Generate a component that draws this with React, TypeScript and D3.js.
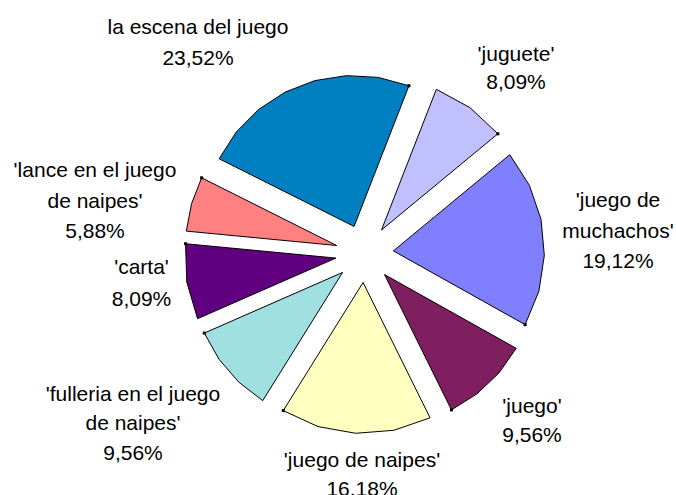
import React from "react";
import * as d3 from "d3";

// ---- data ----
const categories: string[][] = [
  ["'juguete'"],
  ["'juego de", "muchachos'"],
  ["'juego'"],
  ["'juego de naipes'"],
  ["'fulleria en el juego", "de naipes'"],
  ["'carta'"],
  ["'lance en el juego", "de naipes'"],
  ["la escena del juego"],
];
const values: number[] = [8.09, 19.12, 9.56, 16.18, 9.56, 8.09, 5.88, 23.52];
const percentLabels: string[] = ["8,09%", "19,12%", "9,56%", "16,18%", "9,56%", "8,09%", "5,88%", "23,52%"];

// ---- layout / style ----
const colors = ["#C0C0FF", "#8080FF", "#7F1F5F", "#FFFFC0", "#A0E0E0", "#600080", "#FF8080", "#0080C0"];
const labelPos: [number, number][] = [
  [516, 60.5],
  [618, 207],
  [532, 413],
  [362, 466.5],
  [133, 400.5],
  [141.5, 273.5],
  [95, 177],
  [198, 33.5],
];
const lineGap = [28.5, 30.5, 29, 29.5, 29.5, 32, 30.5, 31.5];

const W = 676, H = 495;
const cx = 364.5, cy = 253.5;
const R = 151;
const explode = 29;
const startDeg = 21.3;

export default function App() {
  const pie = d3
    .pie<number>()
    .sort(null)
    .value((d) => d)
    .startAngle((startDeg * Math.PI) / 180)
    .endAngle((startDeg * Math.PI) / 180 + 2 * Math.PI);
  const arcs = pie(values);
  const line = d3.line<[number, number]>();

  return (
    <svg width={W} height={H} style={{ position: "absolute", left: 0, top: 0, background: "#fff" }}>
      {arcs.map((a, i) => {
        const mid = (a.startAngle + a.endAngle) / 2;
        const ax = cx + explode * Math.sin(mid);
        const ay = cy - explode * Math.cos(mid);
        const spanDeg = ((a.endAngle - a.startAngle) * 180) / Math.PI;
        const n = Math.max(2, Math.round(spanDeg / 13));
        const pts: [number, number][] = [[ax, ay]];
        for (let k = 0; k <= n; k++) {
          const t = a.startAngle + ((a.endAngle - a.startAngle) * k) / n;
          pts.push([ax + R * Math.sin(t), ay - R * Math.cos(t)]);
        }
        const end = pts[pts.length - 1];
        return (
          <g key={i}>
            <path d={line(pts)! + "Z"} fill={colors[i]} stroke="#000" strokeWidth={1} strokeLinejoin="miter" />
            <rect x={end[0] - 1.5} y={end[1] - 1.5} width={3} height={3} fill="#000" />
          </g>
        );
      })}
      {arcs.map((a, i) => {
        const lines = [...categories[i], percentLabels[i]];
        const [lx, ly] = labelPos[i];
        return (
          <text
            key={"t" + i}
            x={lx}
            y={ly}
            textAnchor="middle"
            fontFamily="'Liberation Sans', Arial, sans-serif"
            fontSize={21}
            fill="#000"
          >
            {lines.map((s, j) => (
              <tspan key={j} x={lx} y={ly + j * lineGap[i]}>
                {s}
              </tspan>
            ))}
          </text>
        );
      })}
    </svg>
  );
}
